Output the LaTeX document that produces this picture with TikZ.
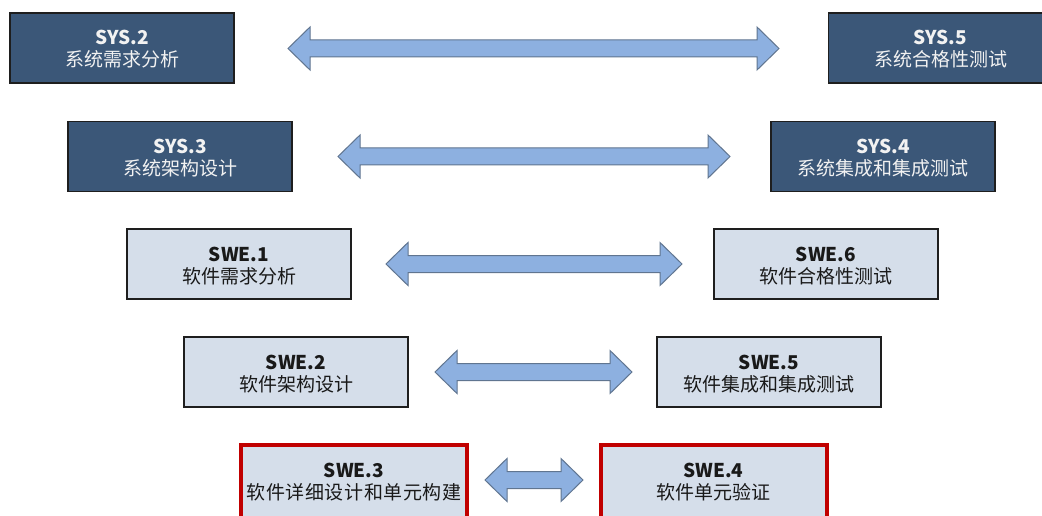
\documentclass[tikz,border=0pt]{standalone}
\usepackage{fontspec}
\setmainfont{Noto Sans CJK SC}
\definecolor{darkfill}{HTML}{3B5778}
\definecolor{lightfill}{HTML}{D5DEEA}
\definecolor{boxline}{HTML}{1E1E1E}
\definecolor{redline}{HTML}{C00000}
\definecolor{arrfill}{HTML}{8DB0E0}
\definecolor{arrline}{HTML}{607590}
\newcommand\boxtext[3][0pt]{\makebox[0pt]{\raisebox{\dimexpr3pt+#1\relax}[0pt][0pt]{\bfseries #2}}\makebox[0pt]{\raisebox{\dimexpr-19pt+#1\relax}[0pt][0pt]{#3}}}
\newcommand\dblarrow[2]{%
\draw[arr] (#1) -- ([shift={(22,-21.5)}]#1) -- ([shift={(22,-8.5)}]#1) -- ([shift={(-22,-8.5)}]#2) -- ([shift={(-22,-21.5)}]#2) -- (#2) -- ([shift={(-22,21.5)}]#2) -- ([shift={(-22,8.5)}]#2) -- ([shift={(22,8.5)}]#1) -- ([shift={(22,21.5)}]#1) -- cycle;}
\begin{document}
\begin{tikzpicture}[x=1pt,y=-1pt,
  basebox/.style={rectangle, inner sep=0pt, minimum width=224pt, minimum height=70pt, font=\fontsize{19}{22}\selectfont},
  sysbox/.style={basebox, fill=darkfill, draw=boxline, line width=1.5pt, text=white!95!black},
  swebox/.style={basebox, fill=lightfill, draw=boxline, line width=1.5pt, text=black!90},
  redbox/.style={basebox, minimum width=226pt, minimum height=78pt, fill=lightfill, draw=redline, line width=4pt, text=black!90},
  arr/.style={fill=arrfill, draw=arrline, line width=1pt, line join=miter}]
\useasboundingbox (0,0) rectangle (1042,516);
\fill[white] (0,0) rectangle (1042,516);
% boxes
\node[sysbox] (sys2) at (122,48) {\boxtext{SYS.2}{系统需求分析}};
\node[sysbox] (sys5) at (940.5,48) {\boxtext{SYS.5}{系统合格性测试}};
\node[sysbox] (sys3) at (180,156.5) {\boxtext{SYS.3}{系统架构设计}};
\node[sysbox] (sys4) at (883,156.5) {\boxtext{SYS.4}{系统集成和集成测试}};
\node[swebox] (swe1) at (239,264) {\boxtext{SWE.1}{软件需求分析}};
\node[swebox] (swe6) at (826,264) {\boxtext{SWE.6}{软件合格性测试}};
\node[swebox] (swe2) at (296,372) {\boxtext{SWE.2}{软件架构设计}};
\node[swebox] (swe5) at (769,372) {\boxtext{SWE.5}{软件集成和集成测试}};
\node[redbox] (swe3) at (354,484) {\boxtext[4pt]{SWE.3}{\addfontfeature{LetterSpace=3}软件详细设计和单元构建}};
\node[redbox] (swe4) at (713.5,484) {\boxtext[4pt]{SWE.4}{软件单元验证}};
% arrow end points
\coordinate (a1l) at (288,48.5);   \coordinate (a1r) at (779,48.5);
\coordinate (a2l) at (338,156.5);  \coordinate (a2r) at (730,156.5);
\coordinate (a3l) at (386,264);    \coordinate (a3r) at (682,264);
\coordinate (a4l) at (435,372);    \coordinate (a4r) at (632,372);
\coordinate (a5l) at (485,480);    \coordinate (a5r) at (583,480);
\dblarrow{a1l}{a1r}
\dblarrow{a2l}{a2r}
\dblarrow{a3l}{a3r}
\dblarrow{a4l}{a4r}
\dblarrow{a5l}{a5r}
\end{tikzpicture}
\end{document}
